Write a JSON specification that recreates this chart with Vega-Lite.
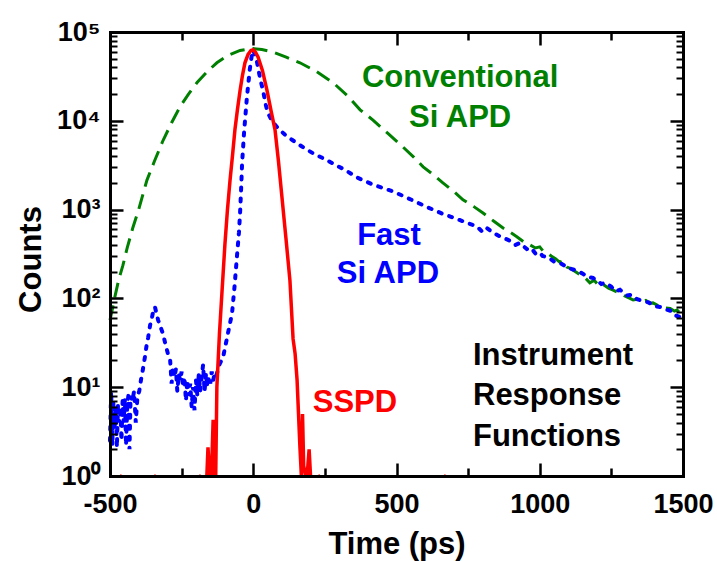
{
  "$schema": "https://vega.github.io/schema/vega-lite/v6.json",
  "width": 573,
  "height": 444,
  "autosize": {"type": "none"},
  "padding": {"left": 110, "top": 32, "right": 34, "bottom": 85},
  "background": "white",
  "config": {"view": {"stroke": null}, "font": "Liberation Sans"},
  "datasets": {
    "green": [
      {"t":-500,"c":57},{"t":-492,"c":75},{"t":-483,"c":104},{"t":-470,"c":160},{"t":-455,"c":235},{"t":-440,"c":370},{"t":-420,"c":630},{"t":-400,"c":1000},{"t":-371,"c":2150},{"t":-345,"c":3500},{"t":-315,"c":6000},{"t":-285,"c":9500},{"t":-256,"c":14300},{"t":-226,"c":20000},{"t":-196,"c":27000},{"t":-160,"c":36000},{"t":-127,"c":45000},{"t":-90,"c":54000},{"t":-46,"c":62000},{"t":-15,"c":64500},{"t":0,"c":65000},{"t":30,"c":63500},{"t":69,"c":59500},{"t":115,"c":52000},{"t":163,"c":45000},{"t":220,"c":36000},{"t":278,"c":27000},{"t":330,"c":19000},{"t":373,"c":13300},{"t":418,"c":10200},{"t":470,"c":7200},{"t":523,"c":5050},{"t":560,"c":3900},{"t":593,"c":3030},{"t":630,"c":2450},{"t":662,"c":2000},{"t":700,"c":1600},{"t":732,"c":1290},{"t":770,"c":1080},{"t":802,"c":915},{"t":840,"c":740},{"t":872,"c":620},{"t":895,"c":560},{"t":920,"c":495},{"t":945,"c":430},{"t":966,"c":400},{"t":985,"c":370},{"t":1000,"c":380},{"t":1012,"c":340},{"t":1025,"c":325},{"t":1040,"c":300},{"t":1055,"c":280},{"t":1070,"c":255},{"t":1080,"c":265},{"t":1095,"c":225},{"t":1110,"c":215},{"t":1125,"c":200},{"t":1140,"c":185},{"t":1155,"c":175},{"t":1175,"c":150},{"t":1190,"c":160},{"t":1205,"c":140},{"t":1220,"c":145},{"t":1240,"c":130},{"t":1256,"c":124},{"t":1270,"c":118},{"t":1285,"c":112},{"t":1300,"c":105},{"t":1315,"c":100},{"t":1326,"c":96},{"t":1340,"c":98},{"t":1355,"c":92},{"t":1370,"c":95},{"t":1385,"c":88},{"t":1395,"c":89},{"t":1410,"c":84},{"t":1425,"c":82},{"t":1440,"c":78},{"t":1455,"c":77},{"t":1470,"c":72},{"t":1479,"c":74},{"t":1490,"c":68},{"t":1500,"c":66}
    ],
    "blue": [
      {"t":-500,"c":2.5},{"t":-496,"c":9},{"t":-492,"c":2.2},{"t":-488,"c":7},{"t":-484,"c":3.5},{"t":-480,"c":6},{"t":-476,"c":2.1},{"t":-472,"c":6.5},{"t":-468,"c":4},{"t":-464,"c":6},{"t":-460,"c":2.5},{"t":-456,"c":7},{"t":-452,"c":4},{"t":-448,"c":7.5},{"t":-444,"c":2.2},{"t":-440,"c":6},{"t":-436,"c":8},{"t":-432,"c":2},{"t":-428,"c":8},{"t":-422,"c":7},{"t":-416,"c":9},{"t":-410,"c":4},{"t":-404,"c":8},{"t":-398,"c":9},{"t":-392,"c":12},{"t":-385,"c":16},{"t":-378,"c":22},{"t":-372,"c":30},{"t":-367,"c":36},{"t":-360,"c":50},{"t":-353,"c":62},{"t":-348,"c":75},{"t":-343,"c":80},{"t":-338,"c":68},{"t":-332,"c":57},{"t":-324,"c":48},{"t":-315,"c":40},{"t":-308,"c":32},{"t":-301,"c":26},{"t":-295,"c":22},{"t":-290,"c":20},{"t":-285,"c":11},{"t":-280,"c":17},{"t":-275,"c":13},{"t":-270,"c":16},{"t":-265,"c":9},{"t":-260,"c":14},{"t":-255,"c":12},{"t":-250,"c":15},{"t":-245,"c":10},{"t":-240,"c":13},{"t":-235,"c":7},{"t":-230,"c":12},{"t":-225,"c":8},{"t":-220,"c":11},{"t":-215,"c":6},{"t":-210,"c":10},{"t":-205,"c":5.5},{"t":-200,"c":12},{"t":-195,"c":8},{"t":-190,"c":14},{"t":-185,"c":9},{"t":-180,"c":13},{"t":-175,"c":18},{"t":-170,"c":9},{"t":-165,"c":14},{"t":-160,"c":10},{"t":-155,"c":13},{"t":-150,"c":11},{"t":-145,"c":15},{"t":-140,"c":12},{"t":-135,"c":14},{"t":-130,"c":13},{"t":-125,"c":15},{"t":-118,"c":18},{"t":-105,"c":22},{"t":-90,"c":38},{"t":-74,"c":68},{"t":-65,"c":140},{"t":-57,"c":294},{"t":-50,"c":550},{"t":-46,"c":915},{"t":-42,"c":1800},{"t":-39,"c":3300},{"t":-32,"c":7500},{"t":-22,"c":18600},{"t":-12,"c":38000},{"t":-5,"c":55000},{"t":0,"c":63000},{"t":8,"c":52000},{"t":13,"c":46000},{"t":24,"c":30000},{"t":34,"c":22000},{"t":44,"c":15000},{"t":51,"c":12300},{"t":65,"c":10000},{"t":83,"c":8500},{"t":110,"c":7000},{"t":139,"c":6000},{"t":175,"c":5000},{"t":209,"c":4300},{"t":250,"c":3700},{"t":278,"c":3300},{"t":320,"c":2800},{"t":362,"c":2300},{"t":420,"c":1900},{"t":488,"c":1600},{"t":550,"c":1300},{"t":606,"c":1070},{"t":660,"c":900},{"t":690,"c":830},{"t":722,"c":760},{"t":750,"c":700},{"t":780,"c":650},{"t":800,"c":560},{"t":815,"c":620},{"t":837,"c":550},{"t":860,"c":500},{"t":880,"c":470},{"t":900,"c":440},{"t":915,"c":400},{"t":930,"c":420},{"t":955,"c":360},{"t":970,"c":370},{"t":985,"c":320},{"t":1000,"c":330},{"t":1010,"c":300},{"t":1030,"c":290},{"t":1050,"c":260},{"t":1071,"c":250},{"t":1090,"c":230},{"t":1110,"c":215},{"t":1130,"c":205},{"t":1150,"c":190},{"t":1165,"c":175},{"t":1186,"c":170},{"t":1200,"c":160},{"t":1215,"c":145},{"t":1230,"c":150},{"t":1250,"c":135},{"t":1265,"c":120},{"t":1280,"c":125},{"t":1305,"c":108},{"t":1320,"c":110},{"t":1340,"c":98},{"t":1360,"c":93},{"t":1380,"c":90},{"t":1400,"c":82},{"t":1420,"c":80},{"t":1440,"c":75},{"t":1460,"c":72},{"t":1475,"c":64},{"t":1490,"c":62},{"t":1500,"c":58}
    ],
    "red": [
      {"t":-464,"c":1},{"t":-460,"c":1},{"t":-456,"c":null},
      {"t":-345,"c":1},{"t":-341,"c":1},{"t":-337,"c":null},
      {"t":-188,"c":1},{"t":-184,"c":1},{"t":-180,"c":null},
      {"t":-162,"c":1},{"t":-158,"c":2.1},{"t":-152,"c":1},{"t":-146,"c":1},{"t":-140,"c":4.3},{"t":-136,"c":1},{"t":-131,"c":1},{"t":-127,"c":10},{"t":-118,"c":40},{"t":-109,"c":120},{"t":-99,"c":400},{"t":-90,"c":1000},{"t":-81,"c":2150},{"t":-72,"c":4200},{"t":-64,"c":7900},{"t":-55,"c":13500},{"t":-46,"c":22000},{"t":-38,"c":32000},{"t":-29,"c":45000},{"t":-18,"c":56000},{"t":-8,"c":62000},{"t":0,"c":63000},{"t":8,"c":59000},{"t":17,"c":52000},{"t":32,"c":37000},{"t":48,"c":22000},{"t":62,"c":13000},{"t":76,"c":7900},{"t":88,"c":3500},{"t":100,"c":1400},{"t":114,"c":480},{"t":128,"c":160},{"t":139,"c":35},{"t":146,"c":24},{"t":153,"c":12},{"t":158,"c":5},{"t":163,"c":2.1},{"t":168,"c":1},{"t":172,"c":5},{"t":176,"c":1.3},{"t":183,"c":1},{"t":188,"c":1},{"t":195,"c":2},{"t":200,"c":1},{"t":205,"c":1},{"t":210,"c":null},
      {"t":228,"c":1},{"t":232,"c":1},{"t":236,"c":null},
      {"t":667,"c":1},{"t":671,"c":1},{"t":675,"c":null}
    ],
    "notes": [
      {"t":722,"c":24000,"label":"Conventional","g":"green"},
      {"t":722,"c":8510,"label":"Si APD","g":"green"},
      {"t":474,"c":399,"label":"Fast","g":"blue"},
      {"t":470,"c":149,"label":"Si APD","g":"blue"},
      {"t":355,"c":5.26,"label":"SSPD","g":"red"},
      {"t":767,"c":17.8,"label":"Instrument","g":"black"},
      {"t":767,"c":6.3,"label":"Response","g":"black"},
      {"t":767,"c":2.18,"label":"Functions","g":"black"}
    ]
  },
  "layer": [
    {
      "data": {"name": "green"},
      "mark": {"type": "line", "color": "#008000", "strokeWidth": 3, "strokeDash": [15, 8]},
      "encoding": {
        "x": {"field": "t", "type": "quantitative", "scale": {"domain": [-500, 1500], "nice": false, "zero": false},
          "axis": {"orient": "bottom", "values": [-500, 0, 500, 1000, 1500], "ticks": false, "domain": false, "grid": false,
            "labelExpr": "'' + datum.value", "labelFont": "Liberation Sans", "labelFontWeight": "bold", "labelFontSize": 27, "labelColor": "black",
            "labelPadding": 36, "labelBaseline": "alphabetic", "labelFlush": false, "labelOverlap": false,
            "title": "Time (ps)", "titleFont": "Liberation Sans", "titleFontWeight": "bold", "titleFontSize": 31, "titleColor": "black",
            "titleBaseline": "alphabetic", "titleY": 77}},
        "y": {"field": "c", "type": "quantitative", "scale": {"type": "log", "domain": [1, 100000], "nice": false},
          "axis": {"orient": "left", "values": [1, 10, 100, 1000, 10000, 100000], "ticks": false, "domain": false, "grid": false,
            "labelExpr": "'10' + ['⁰','¹','²','³','⁴','⁵'][round(log(datum.value)/LN10)]",
            "labelFont": "Liberation Sans", "labelFontWeight": "bold", "labelFontSize": 27, "labelColor": "black",
            "labelPadding": 10, "labelBaseline": "middle", "labelFlush": false, "labelOverlap": false,
            "title": "Counts", "titleFont": "Liberation Sans", "titleFontWeight": "bold", "titleFontSize": 31, "titleColor": "black",
            "titleBaseline": "alphabetic", "titleAlign": "center", "titleAngle": 270, "titleX": -70, "titleY": 227}}
      }
    },
    {
      "data": {"name": "blue"},
      "mark": {"type": "line", "color": "#0000ff", "strokeWidth": 4, "strokeDash": [3, 8], "strokeCap": "round"},
      "encoding": {
        "x": {"field": "t", "type": "quantitative", "scale": {"domain": [-500, 1500], "nice": false, "zero": false},
          "axis": {"orient": "bottom", "values": [-500, 0, 500, 1000, 1500], "labels": false, "ticks": true, "tickSize": -13, "tickWidth": 2.5, "tickColor": "black",
            "domain": true, "domainWidth": 3, "domainColor": "black", "domainCap": "square", "grid": false, "title": null, "zindex": 2}},
        "y": {"field": "c", "type": "quantitative", "scale": {"type": "log", "domain": [1, 100000], "nice": false},
          "axis": {"orient": "left", "values": [1, 10, 100, 1000, 10000, 100000], "labels": false, "ticks": true, "tickSize": -13, "tickWidth": 2.5, "tickColor": "black",
            "domain": true, "domainWidth": 3, "domainColor": "black", "domainCap": "square", "grid": false, "title": null, "zindex": 2}}
      }
    },
    {
      "data": {"name": "red"},
      "mark": {"type": "line", "color": "#ff0000", "strokeWidth": 3.5},
      "encoding": {
        "x": {"field": "t", "type": "quantitative", "scale": {"domain": [-500, 1500], "nice": false, "zero": false},
          "axis": {"orient": "bottom", "values": [-250, 250, 750, 1250], "labels": false, "ticks": true, "tickSize": -8, "tickWidth": 2.5, "tickColor": "black",
            "domain": false, "grid": false, "title": null, "zindex": 2}},
        "y": {"field": "c", "type": "quantitative", "scale": {"type": "log", "domain": [1, 100000], "nice": false},
          "axis": {"orient": "left", "values": [2,3,4,5,6,7,8,9,20,30,40,50,60,70,80,90,200,300,400,500,600,700,800,900,2000,3000,4000,5000,6000,7000,8000,9000,20000,30000,40000,50000,60000,70000,80000,90000],
            "labels": false, "ticks": true, "tickSize": -7, "tickWidth": 2, "tickColor": "black",
            "domain": false, "grid": false, "title": null, "zindex": 2}}
      }
    },
    {
      "data": {"name": "notes"},
      "transform": [{"filter": "datum.g === 'green'"}],
      "mark": {"type": "text", "color": "#008000", "font": "Liberation Sans", "fontWeight": "bold", "fontSize": 31, "align": "center", "baseline": "alphabetic"},
      "encoding": {
        "x": {"field": "t", "type": "quantitative", "scale": {"domain": [-500, 1500], "nice": false, "zero": false},
          "axis": {"orient": "top", "values": [-500, 0, 500, 1000, 1500], "labels": false, "ticks": true, "tickSize": -13, "tickWidth": 2.5, "tickColor": "black",
            "domain": true, "domainWidth": 3, "domainColor": "black", "domainCap": "square", "grid": false, "title": null, "zindex": 2}},
        "y": {"field": "c", "type": "quantitative", "scale": {"type": "log", "domain": [1, 100000], "nice": false},
          "axis": {"orient": "right", "values": [1, 10, 100, 1000, 10000, 100000], "labels": false, "ticks": true, "tickSize": -13, "tickWidth": 2.5, "tickColor": "black",
            "domain": true, "domainWidth": 3, "domainColor": "black", "domainCap": "square", "grid": false, "title": null, "zindex": 2}},
        "text": {"field": "label"}
      }
    },
    {
      "data": {"name": "notes"},
      "transform": [{"filter": "datum.g === 'blue'"}],
      "mark": {"type": "text", "color": "#0000ff", "font": "Liberation Sans", "fontWeight": "bold", "fontSize": 31, "align": "center", "baseline": "alphabetic"},
      "encoding": {
        "x": {"field": "t", "type": "quantitative", "scale": {"domain": [-500, 1500], "nice": false, "zero": false},
          "axis": {"orient": "top", "values": [-250, 250, 750, 1250], "labels": false, "ticks": true, "tickSize": -8, "tickWidth": 2.5, "tickColor": "black",
            "domain": false, "grid": false, "title": null, "zindex": 2}},
        "y": {"field": "c", "type": "quantitative", "scale": {"type": "log", "domain": [1, 100000], "nice": false},
          "axis": {"orient": "right", "values": [2,3,4,5,6,7,8,9,20,30,40,50,60,70,80,90,200,300,400,500,600,700,800,900,2000,3000,4000,5000,6000,7000,8000,9000,20000,30000,40000,50000,60000,70000,80000,90000],
            "labels": false, "ticks": true, "tickSize": -7, "tickWidth": 2, "tickColor": "black",
            "domain": false, "grid": false, "title": null, "zindex": 2}},
        "text": {"field": "label"}
      }
    },
    {
      "data": {"name": "notes"},
      "transform": [{"filter": "datum.g === 'red'"}],
      "mark": {"type": "text", "color": "#ff0000", "font": "Liberation Sans", "fontWeight": "bold", "fontSize": 31, "align": "center", "baseline": "alphabetic"},
      "encoding": {
        "x": {"field": "t", "type": "quantitative", "scale": {"domain": [-500, 1500], "nice": false, "zero": false}, "axis": null},
        "y": {"field": "c", "type": "quantitative", "scale": {"type": "log", "domain": [1, 100000], "nice": false}, "axis": null},
        "text": {"field": "label"}
      }
    },
    {
      "data": {"name": "notes"},
      "transform": [{"filter": "datum.g === 'black'"}],
      "mark": {"type": "text", "color": "black", "font": "Liberation Sans", "fontWeight": "bold", "fontSize": 31, "align": "left", "baseline": "alphabetic"},
      "encoding": {
        "x": {"field": "t", "type": "quantitative", "scale": {"domain": [-500, 1500], "nice": false, "zero": false}, "axis": null},
        "y": {"field": "c", "type": "quantitative", "scale": {"type": "log", "domain": [1, 100000], "nice": false}, "axis": null},
        "text": {"field": "label"}
      }
    }
  ],
  "resolve": {"axis": {"x": "independent", "y": "independent"}}
}
